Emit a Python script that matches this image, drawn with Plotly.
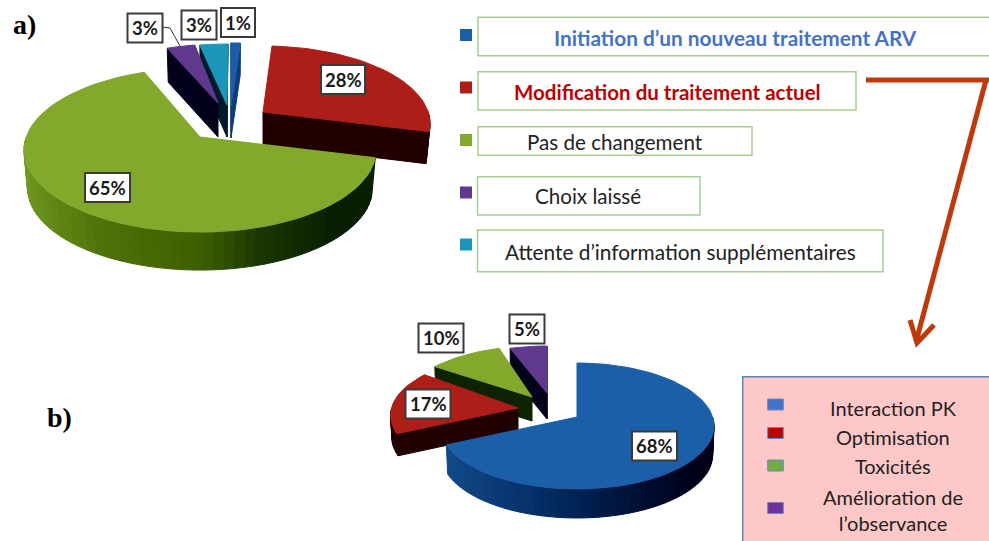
import math
import plotly.graph_objects as go

# ---- data ----
labels_a = ["Initiation d’un nouveau traitement ARV", "Modification du traitement actuel",
            "Pas de changement", "Choix laissé", "Attente d’information supplémentaires"]
values_a = [1, 28, 65, 3, 3]
labels_b = ["Interaction PK", "Optimisation", "Toxicités", "Amélioration de<br>l’observance"]
values_b = [68, 17, 10, 5]
pct_a = ["1%", "28%", "65%", "3%", "3%"]
pct_b = ["68%", "17%", "10%", "5%"]

# ---- styles ----
top_a = ["#1c5ca8", "#ad1e19", "#82a92c", "#60398e", "#1a97b8"]
wall_a = ["#0f3c78", "#210000", "#0d2200", "#02021a", "#021a2c"]
top_b = ["#1c5fa9", "#ad1e19", "#82a92c", "#60398e"]
wall_b = ["#00102e", "#210000", "#0d2200", "#02021a"]
green_rim = [(-1, (112, 155, 32)), (-.5, (80, 115, 10)), (0, (62, 95, 0)), (.3, (25, 55, 0)), (.7, (8, 30, 0)), (1, (8, 30, 0))]
blue_rim = [(-1, (20, 78, 140)), (-.5, (10, 58, 118)), (0, (0, 35, 85)), (.4, (0, 15, 50)), (.8, (0, 0, 25)), (1, (0, 0, 25))]

# pie geometry: pixel-space projection of a tilted disc
geom_a = dict(cx=200, cy=137, rx=173.8, ry=80, q=.1586, s=.98)
pull_a = [(31, -25), (63, -25), (0, 0), (23, -24), (28, -24)]
apex_adj_a = [(0, -6), (0, 0), (0, 0), (-5, -10), (-1, -8)]
radial_a = [1, .95, 1, 1, 1]
depth_a = [32, 32, 38, 34, 32]
order_a = [1, 0, 4, 3, 2]

geom_b = dict(cx=577, cy=417, rx=135.6, ry=61.7, q=.143, s=.99)
pull_b = [(0, 0), (-55, -10), (-41, -17), (-30, -17)]
apex_adj_b = [(0, 0), (-4, 1), (-4, -3), (0, -7)]
radial_b = [1, .96, 1, 1]
depth_b = [29, 22, 24, 26]
order_b = [3, 2, 1, 0]

fig = go.Figure()


def poly(xs, ys, color):
    fig.add_trace(go.Scatter(x=xs, y=ys, mode="lines", fill="toself", fillcolor=color,
                             line=dict(color=color, width=1), hoverinfo="skip", showlegend=False))


def ramp(stops, c):
    for (a, ca), (b, cb) in zip(stops, stops[1:]):
        if a <= c <= b:
            t = (c - a) / (b - a)
            return "rgb(%d,%d,%d)" % tuple(ca[i] + (cb[i] - ca[i]) * t for i in range(3))
    return "rgb(%d,%d,%d)" % stops[-1][1]


def draw_pie(values, g, pull, adj, radial, depth, order, tops, walls, rims):
    total = sum(values)
    starts, acc = [], 0
    for v in values:
        starts.append(acc)
        acc += v

    def proj(u, v, i):
        w = 1 - g["q"] * v
        return g["cx"] + g["rx"] * u / w + pull[i][0], g["cy"] + g["ry"] * v / w + pull[i][1]

    def rim(t, i):
        a = math.radians(t)
        return proj(radial[i] * math.cos(a), radial[i] * math.sin(a), i)

    for i in order:
        t0 = starts[i] / total * 360 - 90
        t1 = (starts[i] + values[i]) / total * 360 - 90
        n = max(3, int((t1 - t0) / 3))
        ts = [t0 + (t1 - t0) * k / n for k in range(n + 1)]
        ax, ay = proj(0, 0, i)
        ax += adj[i][0]
        ay += adj[i][1]
        d = depth[i]

        def low(p):
            return ax + (p[0] - ax) * g["s"], p[1] + d

        # cut faces that face the viewer
        mid = math.radians((t0 + t1) / 2)
        mx, my = proj(.5 * math.cos(mid), .5 * math.sin(mid), i)
        for t in (t0, t1):
            p = rim(t, i)
            if abs(p[0] - ax) < 1e-6:
                vis = my < ay
            else:
                vis = my < ay + (mx - ax) * (p[1] - ay) / (p[0] - ax)
            if vis:
                b = low(p)
                poly([ax, p[0], b[0], ax, ax], [ay, p[1], b[1], ay + d, ay], walls[i])
        # outer rim
        for a, b in zip(ts, ts[1:]):
            if math.sin(math.radians((a + b) / 2)) > 0:
                p, r = rim(a, i), rim(b, i)
                pb, rb = low(p), low(r)
                c = math.cos(math.radians((a + b) / 2))
                col = ramp(rims[i], c) if rims.get(i) else walls[i]
                poly([p[0], r[0], rb[0], pb[0], p[0]], [p[1], r[1], rb[1], pb[1], p[1]], col)
        # top face
        pts = [rim(t, i) for t in ts]
        poly([ax] + [p[0] for p in pts] + [ax], [ay] + [p[1] for p in pts] + [ay], tops[i])


draw_pie(values_a, geom_a, pull_a, apex_adj_a, radial_a, depth_a, order_a, top_a, wall_a, {2: green_rim})
draw_pie(values_b, geom_b, pull_b, apex_adj_b, radial_b, depth_b, order_b, top_b, wall_b, {0: blue_rim})

# leader line of the purple label
fig.add_trace(go.Scatter(x=[162, 170, 180], y=[27, 28, 46], mode="lines", line=dict(color="#333", width=1),
                         hoverinfo="skip", showlegend=False))

shapes, ann = [], []


def rect(x0, y0, x1, y1, fill, line, w=1.5):
    shapes.append(dict(type="rect", xref="x", yref="y", x0=x0, y0=y0, x1=x1, y1=y1, fillcolor=fill,
                       line=dict(color=line, width=w), layer="above"))


def text(x, y, s, size=18, color="#222", bold=False, family="Lato"):
    ann.append(dict(x=x, y=y, xref="x", yref="y", text=f"<b>{s}</b>" if bold else s, showarrow=False,
                    font=dict(size=size, color=color, family=family), xanchor="center", yanchor="middle"))


# pie value boxes
box_a = [(238, 22.5, 34), (343, 79.5, 44), (107.5, 187.5, 45), (145, 28, 35), (199, 25, 35)]
box_b = [(654.5, 446, 45), (428, 404, 45), (441, 338, 45), (527, 329, 35)]
for (x, y, w), s in zip(box_a, pct_a):
    rect(x - w / 2, y - 14.5, x + w / 2, y + 14.5, "white", "#3a3a3a", 2)
    text(x, y, s, 18.5, "#1a1a1a", True)
for (x, y, w), s in zip(box_b, pct_b):
    rect(x - w / 2, y - 14.5, x + w / 2, y + 14.5, "white", "#3a3a3a", 2)
    text(x, y, s, 18.5, "#1a1a1a", True)

# legend a
GREEN = "#a5cf8e"
leg_boxes = [(478, 17.3, 995, 55.7), (478, 71.7, 856, 110), (478, 126.7, 752, 155.3),
             (477.5, 176.7, 700, 215), (477.5, 230, 883, 271.7)]
leg_y = [35, 87.5, 140, 192.5, 244.5]
leg_text = [(735, 37, "#4472c4", True, 20.8), (667, 92, "#c00000", True, 20.5), (614.5, 142, "#222", False, 20.6),
            (588, 196, "#222", False, 20.6), (680, 251, "#222", False, 20.8)]
leg_colors = [top_a[0], top_a[1], top_a[2], top_a[3], top_a[4]]
for b, y, tx, c, s in zip(leg_boxes, leg_y, leg_text, leg_colors, labels_a):
    rect(*b, "white", GREEN)
    rect(460, y - 6, 472, y + 6, c, c, 0)
    text(tx[0], tx[1], s, tx[4], tx[2], tx[3])

# legend b
rect(742.7, 376.7, 1000, 560, "#ffc8c8", "#5f82b8")
sq_y = [404.5, 433, 465.5, 508]
sq_colors = ["#4472c4", "#c00000", "#70ad47", "#7030a0"]
txt_y = [408, 437, 466, 510]
for y, c, ty, s in zip(sq_y, sq_colors, txt_y, labels_b):
    rect(767.7, y - 5.5, 783.3, y + 5.5, c, "#6d86bd", 1)
    text(893, ty, s, 20, "#222")

# arrow
ARROW = "#c0390b"
for path in ["M866,80 L989,80", "M986,80 L916,342", "M910,320 L917,343 L934,325"]:
    shapes.append(dict(type="path", xref="x", yref="y", path=path, line=dict(color=ARROW, width=5), layer="above"))

text(24, 24, "a)", 28, "#000", True, "Liberation Serif")
text(59, 417, "b)", 28, "#000", True, "Liberation Serif")

fig.update_layout(width=989, height=541, margin=dict(l=0, r=0, t=0, b=0), paper_bgcolor="white",
                  plot_bgcolor="white", showlegend=False, shapes=shapes, annotations=ann,
                  xaxis=dict(range=[0, 989], visible=False, fixedrange=True),
                  yaxis=dict(range=[541, 0], visible=False, fixedrange=True))
fig.write_html("out.html", post_script="document.body.style.margin='0';", config={"displayModeBar": False})
